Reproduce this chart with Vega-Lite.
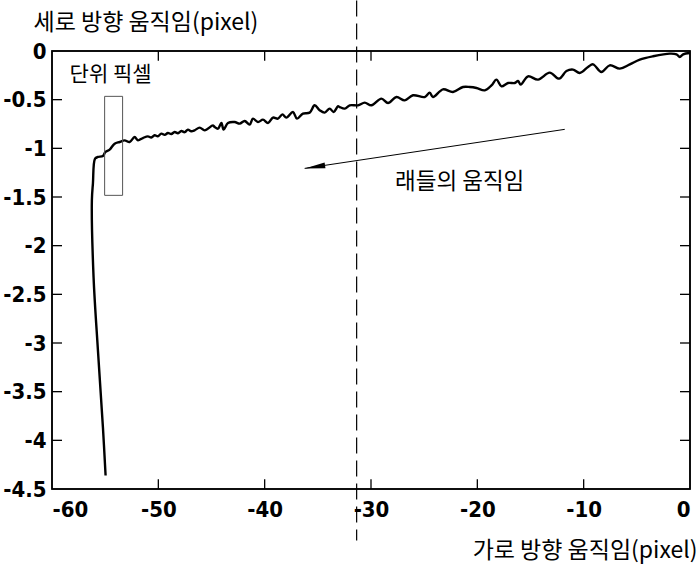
{
  "$schema": "https://vega.github.io/schema/vega-lite/v6.json",
  "width": 638,
  "height": 438,
  "autosize": {"type": "none"},
  "padding": {"left": 52, "top": 51, "right": 9, "bottom": 83},
  "background": "white",
  "config": {
    "view": {"stroke": "black", "strokeWidth": 1.5},
    "axis": {
      "grid": false,
      "domain": false,
      "ticks": false,
      "labelFont": "DejaVu Sans Condensed",
      "labelFontSize": 22,
      "labelFontWeight": "bold",
      "labelColor": "black",
      "titleFont": "Noto Sans CJK KR",
      "titleFontSize": 23,
      "titleFontWeight": "normal",
      "titleColor": "black"
    }
  },
  "datasets": {
    "curve": [
      {"i": 1, "x": -54.96, "y": -4.361},
      {"i": 2, "x": -55.21, "y": -3.867},
      {"i": 3, "x": -55.68, "y": -3.076},
      {"i": 4, "x": -56.09, "y": -2.326},
      {"i": 5, "x": -56.25, "y": -1.534},
      {"i": 6, "x": -56.15, "y": -1.36},
      {"i": 7, "x": -55.95, "y": -1.106},
      {"i": 8, "x": -55.68, "y": -1.089},
      {"i": 9, "x": -55.21, "y": -1.079},
      {"i": 10, "x": -54.99, "y": -1.038},
      {"i": 11, "x": -54.58, "y": -1.013},
      {"i": 12, "x": -54.11, "y": -0.952},
      {"i": 13, "x": -53.64, "y": -0.935},
      {"i": 14, "x": -53.17, "y": -0.918},
      {"i": 15, "x": -52.7, "y": -0.935},
      {"i": 16, "x": -52.23, "y": -0.884},
      {"i": 17, "x": -51.92, "y": -0.918},
      {"i": 18, "x": -51.45, "y": -0.894},
      {"i": 19, "x": -50.98, "y": -0.877},
      {"i": 20, "x": -50.66, "y": -0.889},
      {"i": 21, "x": -50.35, "y": -0.866},
      {"i": 22, "x": -50.05, "y": -0.876},
      {"i": 23, "x": -49.72, "y": -0.849},
      {"i": 24, "x": -49.4, "y": -0.862},
      {"i": 25, "x": -49.1, "y": -0.843},
      {"i": 26, "x": -48.78, "y": -0.853},
      {"i": 27, "x": -48.47, "y": -0.832},
      {"i": 28, "x": -48.15, "y": -0.845},
      {"i": 29, "x": -47.84, "y": -0.822},
      {"i": 30, "x": -47.52, "y": -0.834},
      {"i": 31, "x": -47.22, "y": -0.808},
      {"i": 32, "x": -46.9, "y": -0.825},
      {"i": 33, "x": -46.59, "y": -0.815},
      {"i": 34, "x": -46.11, "y": -0.787},
      {"i": 35, "x": -45.64, "y": -0.815},
      {"i": 36, "x": -44.86, "y": -0.764},
      {"i": 37, "x": -44.7, "y": -0.781},
      {"i": 38, "x": -44.39, "y": -0.798},
      {"i": 39, "x": -44.07, "y": -0.74},
      {"i": 40, "x": -43.86, "y": -0.808},
      {"i": 41, "x": -43.45, "y": -0.74},
      {"i": 42, "x": -42.82, "y": -0.73},
      {"i": 43, "x": -42.35, "y": -0.746},
      {"i": 44, "x": -41.88, "y": -0.719},
      {"i": 45, "x": -41.41, "y": -0.756},
      {"i": 46, "x": -41.1, "y": -0.695},
      {"i": 47, "x": -40.63, "y": -0.73},
      {"i": 48, "x": -40.16, "y": -0.705},
      {"i": 49, "x": -39.69, "y": -0.74},
      {"i": 50, "x": -39.22, "y": -0.684},
      {"i": 51, "x": -38.75, "y": -0.695},
      {"i": 52, "x": -38.33, "y": -0.651},
      {"i": 53, "x": -37.96, "y": -0.684},
      {"i": 54, "x": -37.34, "y": -0.627},
      {"i": 55, "x": -36.96, "y": -0.695},
      {"i": 56, "x": -36.4, "y": -0.643},
      {"i": 57, "x": -35.77, "y": -0.633},
      {"i": 58, "x": -35.3, "y": -0.558},
      {"i": 59, "x": -34.83, "y": -0.609},
      {"i": 60, "x": -34.36, "y": -0.633},
      {"i": 61, "x": -33.89, "y": -0.592},
      {"i": 62, "x": -33.51, "y": -0.627},
      {"i": 63, "x": -33.1, "y": -0.568},
      {"i": 64, "x": -32.94, "y": -0.576},
      {"i": 65, "x": -32.47, "y": -0.592},
      {"i": 66, "x": -32.0, "y": -0.558},
      {"i": 67, "x": -31.22, "y": -0.558},
      {"i": 68, "x": -30.59, "y": -0.53},
      {"i": 69, "x": -29.96, "y": -0.558},
      {"i": 70, "x": -29.02, "y": -0.489},
      {"i": 71, "x": -28.4, "y": -0.534},
      {"i": 72, "x": -27.61, "y": -0.473},
      {"i": 73, "x": -26.83, "y": -0.507},
      {"i": 74, "x": -26.05, "y": -0.455},
      {"i": 75, "x": -24.95, "y": -0.473},
      {"i": 76, "x": -24.48, "y": -0.428},
      {"i": 77, "x": -24.17, "y": -0.473},
      {"i": 78, "x": -23.23, "y": -0.394},
      {"i": 79, "x": -22.29, "y": -0.421},
      {"i": 80, "x": -21.35, "y": -0.37},
      {"i": 81, "x": -20.71, "y": -0.37},
      {"i": 82, "x": -20.08, "y": -0.38},
      {"i": 83, "x": -19.3, "y": -0.404},
      {"i": 84, "x": -18.67, "y": -0.353},
      {"i": 85, "x": -18.2, "y": -0.294},
      {"i": 86, "x": -17.73, "y": -0.363},
      {"i": 87, "x": -17.11, "y": -0.329},
      {"i": 88, "x": -16.48, "y": -0.329},
      {"i": 89, "x": -16.17, "y": -0.308},
      {"i": 90, "x": -15.92, "y": -0.345},
      {"i": 91, "x": -15.23, "y": -0.26},
      {"i": 92, "x": -14.29, "y": -0.294},
      {"i": 93, "x": -13.19, "y": -0.222},
      {"i": 94, "x": -12.31, "y": -0.284},
      {"i": 95, "x": -11.62, "y": -0.206},
      {"i": 96, "x": -11.0, "y": -0.191},
      {"i": 97, "x": -10.37, "y": -0.226},
      {"i": 98, "x": -9.59, "y": -0.164},
      {"i": 99, "x": -9.12, "y": -0.137},
      {"i": 100, "x": -8.33, "y": -0.216},
      {"i": 101, "x": -7.55, "y": -0.147},
      {"i": 102, "x": -6.6, "y": -0.181},
      {"i": 103, "x": -5.66, "y": -0.137},
      {"i": 104, "x": -4.72, "y": -0.088},
      {"i": 105, "x": -3.47, "y": -0.054},
      {"i": 106, "x": -1.9, "y": -0.027},
      {"i": 107, "x": -1.27, "y": -0.034},
      {"i": 108, "x": -0.96, "y": -0.062},
      {"i": 109, "x": -0.65, "y": -0.034},
      {"i": 110, "x": -0.02, "y": -0.021}
    ],
    "frame": [{"x": -60, "x2": 0, "y": -4.5, "y2": 0}],
    "xticks": [{"x": -50}, {"x": -40}, {"x": -30}, {"x": -20}, {"x": -10}],
    "yticks": [{"y": -4}, {"y": -3.5}, {"y": -3}, {"y": -2.5}, {"y": -2}, {"y": -1.5}, {"y": -1}, {"y": -0.5}],
    "dash": [{"x": -31.35, "y": 0.52, "y2": -5.03}],
    "box": [{"x": -55.05, "x2": -53.36, "y": -0.466, "y2": -1.483}],
    "arrow": [{"x": -11.78, "y": -0.805, "x2": -36.24, "y2": -1.206}],
    "labels": [
      {"x": -54.49, "y": -0.25, "text": "단위 픽셀", "size": 21},
      {"x": -21.66, "y": -1.35, "text": "래들의 움직임", "size": 22.5}
    ]
  },
  "layer": [
    {
      "data": {"name": "frame"},
      "mark": {"type": "rect", "fill": null, "fillOpacity": 0, "stroke": "black", "strokeWidth": 1.5},
      "encoding": {
        "x": {
          "field": "x", "type": "quantitative",
          "scale": {"domain": [-60, 0], "nice": false, "zero": false},
          "axis": {
            "orient": "bottom",
            "values": [-60, -50, -40, -30, -20, -10, 0],
            "labelExpr": "'' + datum.value",
            "labelPadding": 10,
            "labelBaseline": "top",
            "title": "가로 방향 움직임(pixel)",
            "titleAlign": "right",
            "titleAnchor": null,
            "titleX": 645,
            "titleY": 73,
            "titleBaseline": "bottom"
          }
        },
        "x2": {"field": "x2"},
        "y": {
          "field": "y", "type": "quantitative",
          "scale": {"domain": [-4.5, 0], "nice": false, "zero": false},
          "axis": {
            "orient": "left",
            "values": [-4.5, -4, -3.5, -3, -2.5, -2, -1.5, -1, -0.5, 0],
            "labelExpr": "'' + datum.value",
            "labelPadding": 6,
            "title": "세로 방향 움직임(pixel)",
            "titleAngle": 0,
            "titleAlign": "left",
            "titleAnchor": null,
            "titleX": -19,
            "titleY": -17,
            "titleBaseline": "bottom"
          }
        },
        "y2": {"field": "y2"}
      }
    },
    {
      "data": {"name": "xticks"},
      "mark": {"type": "rule", "color": "black", "strokeWidth": 1.3},
      "encoding": {
        "x": {"field": "x", "type": "quantitative"},
        "y": {"datum": 0, "type": "quantitative"},
        "y2": {"datum": -0.1}
      }
    },
    {
      "data": {"name": "xticks"},
      "mark": {"type": "rule", "color": "black", "strokeWidth": 1.3},
      "encoding": {
        "x": {"field": "x", "type": "quantitative"},
        "y": {"datum": -4.5, "type": "quantitative"},
        "y2": {"datum": -4.4}
      }
    },
    {
      "data": {"name": "yticks"},
      "mark": {"type": "rule", "color": "black", "strokeWidth": 1.3},
      "encoding": {
        "y": {"field": "y", "type": "quantitative"},
        "x": {"datum": -60, "type": "quantitative"},
        "x2": {"datum": -59.06}
      }
    },
    {
      "data": {"name": "yticks"},
      "mark": {"type": "rule", "color": "black", "strokeWidth": 1.3},
      "encoding": {
        "y": {"field": "y", "type": "quantitative"},
        "x": {"datum": 0, "type": "quantitative"},
        "x2": {"datum": -0.94}
      }
    },
    {
      "data": {"name": "curve"},
      "mark": {"type": "line", "color": "black", "strokeWidth": 2.4, "interpolate": "catmull-rom"},
      "encoding": {
        "x": {"field": "x", "type": "quantitative"},
        "y": {"field": "y", "type": "quantitative"},
        "order": {"field": "i", "type": "quantitative"}
      }
    },
    {
      "data": {"name": "dash"},
      "mark": {"type": "rule", "color": "black", "strokeWidth": 1.2, "strokeDash": [16, 7], "clip": false},
      "encoding": {
        "x": {"field": "x", "type": "quantitative"},
        "y": {"field": "y", "type": "quantitative"},
        "y2": {"field": "y2"}
      }
    },
    {
      "data": {"name": "box"},
      "mark": {"type": "rect", "fill": null, "fillOpacity": 0, "stroke": "#555555", "strokeWidth": 1},
      "encoding": {
        "x": {"field": "x", "type": "quantitative"},
        "x2": {"field": "x2"},
        "y": {"field": "y", "type": "quantitative"},
        "y2": {"field": "y2"}
      }
    },
    {
      "data": {"name": "arrow"},
      "mark": {"type": "rule", "color": "black", "strokeWidth": 1},
      "encoding": {
        "x": {"field": "x", "type": "quantitative"},
        "x2": {"field": "x2"},
        "y": {"field": "y", "type": "quantitative"},
        "y2": {"field": "y2"}
      }
    },
    {
      "data": {"name": "arrow"},
      "mark": {"type": "point", "shape": "M0,0L1,-0.14L1,0.14Z", "filled": true, "color": "black", "opacity": 1, "size": 1700, "angle": -8.5},
      "encoding": {
        "x": {"field": "x2", "type": "quantitative"},
        "y": {"field": "y2", "type": "quantitative"}
      }
    },
    {
      "data": {"name": "labels"},
      "mark": {"type": "text", "font": "Noto Sans CJK KR", "color": "black", "align": "center", "baseline": "middle"},
      "encoding": {
        "x": {"field": "x", "type": "quantitative"},
        "y": {"field": "y", "type": "quantitative"},
        "text": {"field": "text"},
        "size": {"field": "size", "type": "quantitative", "scale": null, "legend": null}
      }
    }
  ]
}
